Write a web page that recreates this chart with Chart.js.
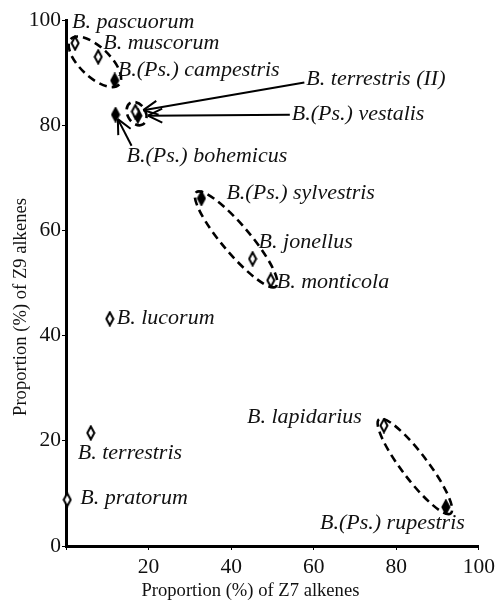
<!DOCTYPE html>
<html>
<head>
<meta charset="utf-8">
<script src="https://cdn.jsdelivr.net/npm/chart.js@4"></script>
<style>
  body { margin: 0; background: #fff; }
</style>
</head>
<body>
<canvas id="Z7Z9Chart" width="499" height="605"></canvas>
<script>
// species
const species = ['B. pascuorum', 'B. muscorum', 'B.(Ps.) campestris', 'B. terrestris (II)', 'B.(Ps.) vestalis',
    'B.(Ps.) bohemicus', 'B.(Ps.) sylvestris', 'B. jonellus', 'B. monticola', 'B. lucorum',
    'B. terrestris', 'B. pratorum', 'B. lapidarius', 'B.(Ps.) rupestris'];
const z7 = [2.2, 7.8, 11.8, 16.8, 17.4, 12.0, 32.8, 45.2, 49.6, 10.6, 6.0, 0.3, 77.0, 92.0];
const z9 = [95.6, 93.0, 88.5, 82.6, 81.8, 82.0, 66.1, 54.6, 50.5, 43.2, 21.5, 8.8, 22.9, 7.4];
const filled = [0, 0, 1, 0, 1, 1, 1, 0, 0, 0, 0, 0, 0, 1];
const axisTicks = [0, 20, 40, 60, 80, 100];

// groups circled with dashed ellipses (first and last member)
const groups = [[0, 2], [3, 4], [6, 8], [12, 13]];

// how each label sits next to its point (pixels), with optional arrow
const labelPlace = [
    { dx: -3, dy: -21 },
    { dx: 5, dy: -14 },
    { dx: 3, dy: -10 },
    { dx: 171, dy: -32, arrow: { sx: 169, sy: -29, gap: 8 } },
    { dx: 154, dy: -2, arrow: { sx: 152, sy: -1, gap: 10 } },
    { dx: 11, dy: 42, arrow: { sx: 16, sy: 31, gap: 5 } },
    { dx: 25, dy: -5 },
    { dx: 6, dy: -17 },
    { dx: 6, dy: 2 },
    { dx: 7, dy: -1 },
    { dx: -13, dy: 20 },
    { dx: 13, dy: -1 },
    { dx: -22, dy: -8, align: 'right' },
    { dx: 19, dy: 16, align: 'right' }
];
const ellipseSize = [{ pad: 6, minor: 15 }, { pad: 10, minor: 9 }, { pad: 8, minor: 14 }, { pad: 8, minor: 13 }];

function diamond(isFilled) {
    const c = document.createElement('canvas');
    c.width = 10;
    c.height = 16;
    const g = c.getContext('2d');
    g.beginPath();
    g.moveTo(5, 1.5);
    g.lineTo(8.5, 8);
    g.lineTo(5, 14.5);
    g.lineTo(1.5, 8);
    g.closePath();
    g.fillStyle = isFilled ? '#000' : '#fff';
    g.fill();
    g.lineWidth = 2;
    g.strokeStyle = '#000';
    g.stroke();
    return c;
}

const openPts = [], filledPts = [];
for (let i = 0; i < species.length; i++) {
    const p = { x: z7[i], y: z9[i], i: i };
    (filled[i] ? filledPts : openPts).push(p);
}

const serif = '"Liberation Serif", "Times New Roman", serif';

const annotate = {
    id: 'annotate',
    afterDatasetsDraw(chart) {
        const ctx = chart.ctx;
        const xs = chart.scales.x, ys = chart.scales.y;
        const px = i => ({ x: xs.getPixelForValue(z7[i]), y: ys.getPixelForValue(z9[i]) });
        ctx.save();

        // dashed ellipses
        ctx.strokeStyle = '#000';
        ctx.lineWidth = 2.6;
        ctx.setLineDash([8, 5]);
        groups.forEach((g, k) => {
            const a = px(g[0]), b = px(g[1]);
            const ang = Math.atan2(b.y - a.y, b.x - a.x);
            const half = Math.hypot(b.x - a.x, b.y - a.y) / 2 + ellipseSize[k].pad;
            ctx.beginPath();
            ctx.ellipse((a.x + b.x) / 2, (a.y + b.y) / 2, half, ellipseSize[k].minor, ang, 0, Math.PI * 2);
            ctx.stroke();
        });
        ctx.setLineDash([]);

        // arrows
        ctx.lineWidth = 2;
        labelPlace.forEach((l, i) => {
            if (!l.arrow) return;
            const p = px(i);
            const sx = p.x + l.arrow.sx, sy = p.y + l.arrow.sy;
            const ang = Math.atan2(p.y - sy, p.x - sx);
            const tx = p.x - Math.cos(ang) * l.arrow.gap, ty = p.y - Math.sin(ang) * l.arrow.gap;
            ctx.beginPath();
            ctx.moveTo(sx, sy);
            ctx.lineTo(tx, ty);
            ctx.stroke();
            ctx.beginPath();
            for (const s of [-1, 1]) {
                const a2 = ang + Math.PI + s * 0.45;
                ctx.moveTo(tx + Math.cos(a2) * 16, ty + Math.sin(a2) * 16);
                ctx.lineTo(tx, ty);
            }
            ctx.stroke();
        });

        // species labels
        ctx.fillStyle = '#111';
        ctx.font = 'italic 22px ' + serif;
        ctx.textBaseline = 'middle';
        labelPlace.forEach((l, i) => {
            const p = px(i);
            ctx.textAlign = l.align || 'left';
            ctx.fillText(species[i], p.x + l.dx, p.y + l.dy);
        });

        // axis titles
        const area = chart.chartArea;
        ctx.font = '18.6px ' + serif;
        ctx.textAlign = 'center';
        ctx.fillText('Proportion (%) of Z7 alkenes', (area.left + area.right) / 2 - 22, area.bottom + 45);
        ctx.translate(21, (area.top + area.bottom) / 2 + 24);
        ctx.rotate(-Math.PI / 2);
        ctx.fillText('Proportion (%) of Z9 alkenes', 0, 0);
        ctx.restore();
    }
};

function axis(position) {
    return {
        type: 'linear',
        position: position,
        min: 0,
        max: 100,
        afterBuildTicks: s => { s.ticks = axisTicks.map(v => ({ value: v })); },
        afterFit: s => {
            if (position === 'left') s.width = 66;
            else s.height = 59;
        },
        border: { display: true, color: '#000', width: 3 },
        grid: { display: true, drawOnChartArea: false, drawTicks: true, tickLength: 4, color: '#000', lineWidth: 1 },
        ticks: {
            color: '#111',
            padding: position === 'left' ? 1 : 4,
            font: { family: serif, size: 21.5 },
            callback: v => (position === 'bottom' && v === 0) ? '' : v
        }
    };
}

const z = document.getElementById('Z7Z9Chart').getContext('2d');
const Z7Z9Chart = new Chart(z, {
    type: 'scatter',
    data: {
        datasets: [{
            label: 'open',
            data: openPts,
            pointStyle: diamond(false),
            clip: false
        },
        {
            label: 'filled',
            data: filledPts,
            pointStyle: diamond(true),
            clip: false
        }]
    },
    options: {
        responsive: false,
        animation: false,
        layout: { padding: { left: 0, top: 20, right: 18, bottom: 0 } },
        plugins: {
            legend: { display: false },
            tooltip: { enabled: false }
        },
        scales: {
            x: axis('bottom'),
            y: axis('left')
        }
    },
    plugins: [annotate]
});
</script>
</body>
</html>
